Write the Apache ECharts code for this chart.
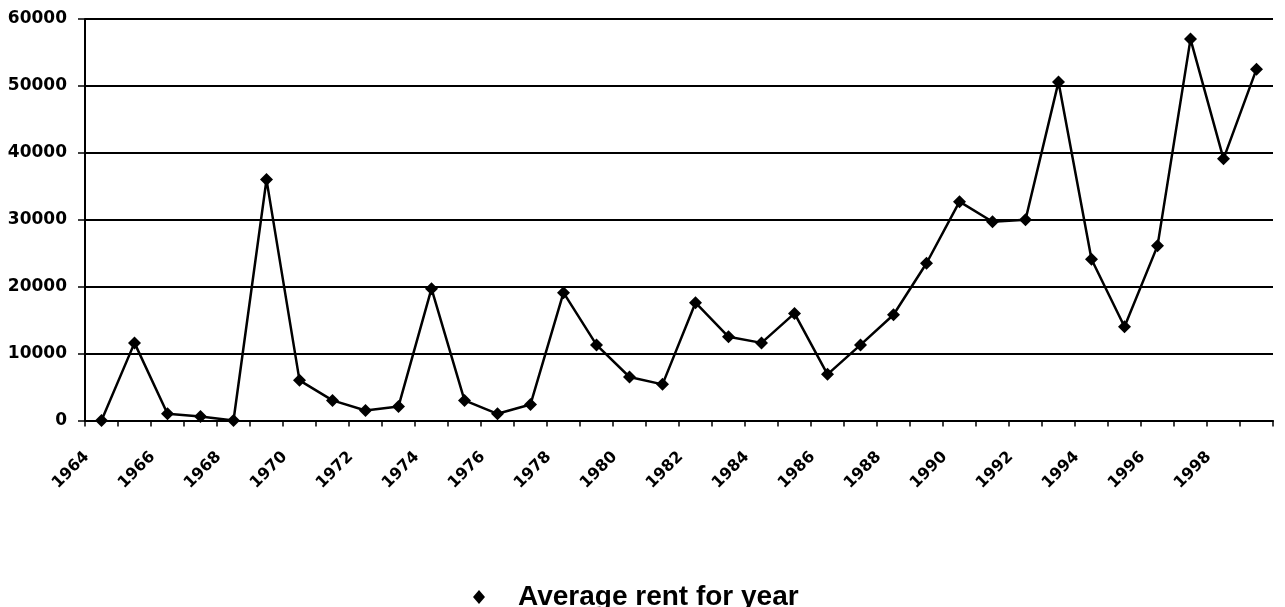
<!DOCTYPE html>
<html>
<head>
<meta charset="utf-8">
<script src="https://cdn.jsdelivr.net/npm/echarts@6/dist/echarts.min.js"></script>
<style>
  html, body { margin: 0; padding: 0; background: #fff; }
  #chart { width: 1285px; height: 607px; }
</style>
</head>
<body>
<div id="chart"></div>
<script>
// years on the category axis
const years = ['1964', '1965', '1966', '1967', '1968', '1969', '1970', '1971', '1972', '1973',
  '1974', '1975', '1976', '1977', '1978', '1979', '1980', '1981', '1982', '1983',
  '1984', '1985', '1986', '1987', '1988', '1989', '1990', '1991', '1992', '1993',
  '1994', '1995', '1996', '1997', '1998', '1999'];

// average rent
const avgRent = [0, 11600, 1000, 600, 0, 36000, 6000, 3000, 1500, 2100,
  19700, 3000, 1000, 2400, 19100, 11300, 6500, 5400, 17600, 12500,
  11600, 16000, 6900, 11300, 15800, 23500, 32700, 29700, 30000, 50600,
  24100, 14000, 26100, 57000, 39100, 52500];

const seriesName = 'Average rent for year';

const chart = echarts.init(document.getElementById('chart'));

const option = {
  backgroundColor: '#fff',
  animation: false,
  grid: { left: 85, right: 12, top: 19, bottom: 186.5, containLabel: false },
  legend: {
    data: [seriesName],
    left: 468,
    top: 578,
    icon: 'diamond',
    itemWidth: 12,
    itemHeight: 14,
    formatter: name => '{t|' + name + '}',
    textStyle: {
      rich: {
        t: {
          fontFamily: '"Liberation Sans", Arial, sans-serif',
          fontWeight: 'bold',
          fontSize: 28,
          color: '#000',
          padding: [0, 0, 0, 28]
        }
      }
    }
  },
  xAxis: {
    type: 'category',
    data: years,
    boundaryGap: true,
    axisLine: { lineStyle: { color: '#000', width: 2 } },
    axisTick: { show: true, interval: 0, length: 6, lineStyle: { color: '#000', width: 1.5 } },
    axisLabel: {
      interval: 1,
      rotate: 45,
      margin: 19,
      formatter: v => '{y|' + v + '}',
      rich: {
        y: {
          fontFamily: '"DejaVu Sans", sans-serif',
          fontWeight: 'bold',
          fontSize: 16,
          color: '#000',
          padding: [0, 21, 0, 0]
        }
      }
    },
    splitLine: { show: false }
  },
  yAxis: {
    type: 'value',
    min: 0,
    max: 60000,
    interval: 10000,
    axisLine: { show: true, lineStyle: { color: '#000', width: 2 } },
    axisTick: { show: true, length: 7, lineStyle: { color: '#000', width: 1.5 } },
    axisLabel: {
      margin: 18,
      formatter: v => String(v),
      fontFamily: '"DejaVu Sans", sans-serif',
      fontWeight: 'bold',
      fontSize: 17,
      color: '#000'
    },
    splitLine: { show: true, lineStyle: { color: '#000', width: 2 } }
  },
  series: [
    {
      name: seriesName,
      type: 'line',
      data: avgRent,
      symbol: 'diamond',
      symbolSize: 13,
      showAllSymbol: true,
      lineStyle: { color: '#000', width: 2.5 },
      itemStyle: { color: '#000' }
    }
  ]
};

chart.setOption(option);
</script>
</body>
</html>
